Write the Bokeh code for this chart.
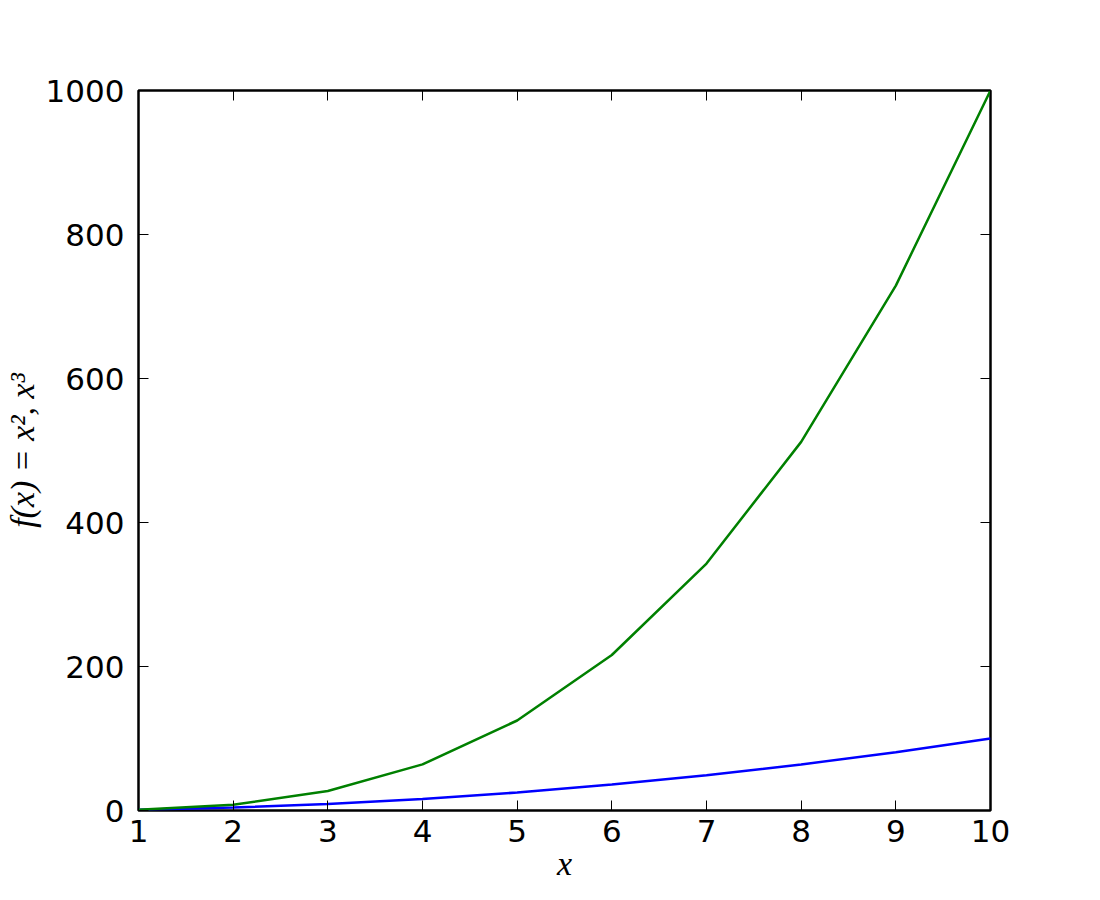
from bokeh.plotting import figure
from bokeh.models import LinearAxis, FixedTicker, Range1d, CustomJSTickFormatter
from bokeh.embed import file_html
from bokeh.resources import INLINE

# data
x_vals = [1, 2, 3, 4, 5, 6, 7, 8, 9, 10]
squares = [1, 4, 9, 16, 25, 36, 49, 64, 81, 100]
cubes = [1, 8, 27, 64, 125, 216, 343, 512, 729, 1000]
x_ticks = [1, 2, 3, 4, 5, 6, 7, 8, 9, 10]
y_ticks = [0, 200, 400, 600, 800, 1000]
x_label = "x"
y_label = "f(x) = x², x³"

W, H = 1084, 884
p = figure(width=W, height=H, output_backend="svg", toolbar_location=None,
           x_range=Range1d(1, 10), y_range=Range1d(0, 1000),
           min_border_left=138, min_border_right=94,
           min_border_top=90, min_border_bottom=74,
           x_axis_type=None, y_axis_type=None)
p.background_fill_color = "white"
p.border_fill_color = "white"
p.outline_line_color = "black"
p.outline_line_width = 2.5
p.xgrid.visible = False
p.ygrid.visible = False

def style_axis(ax, ticks, show_labels, standoff):
    ax.ticker = FixedTicker(ticks=ticks)
    ax.axis_line_color = None
    ax.major_tick_in = 10
    ax.major_tick_out = 0
    ax.major_tick_line_color = "black"
    ax.major_tick_line_width = 1
    ax.minor_tick_line_color = None
    ax.major_label_text_font = "DejaVu Sans"
    ax.major_label_text_font_size = "31px"
    ax.major_label_text_color = "black"
    ax.major_label_standoff = standoff
    ax.axis_label_text_font = "Liberation Serif"
    ax.axis_label_text_font_style = "italic"
    ax.axis_label_text_font_size = "34px"
    ax.axis_label_text_color = "black"
    ax.axis_label_text_line_height = 1.0
    if not show_labels:
        ax.formatter = CustomJSTickFormatter(code="return ''")

xb = LinearAxis(axis_label=x_label); style_axis(xb, x_ticks, True, 9)
xb.axis_label_standoff = 0
yl = LinearAxis(axis_label=y_label); style_axis(yl, y_ticks, True, 14)
yl.axis_label_standoff = 2
xt = LinearAxis(); style_axis(xt, x_ticks, False, 0)
yr = LinearAxis(); style_axis(yr, y_ticks, False, 0)
p.add_layout(xb, "below")
p.add_layout(yl, "left")
p.add_layout(xt, "above")
p.add_layout(yr, "right")

p.line(x_vals, squares, line_color="#0000ff", line_width=2.5)
p.line(x_vals, cubes, line_color="#008000", line_width=2.5)

open("out.html", "w").write(file_html(p, INLINE))
